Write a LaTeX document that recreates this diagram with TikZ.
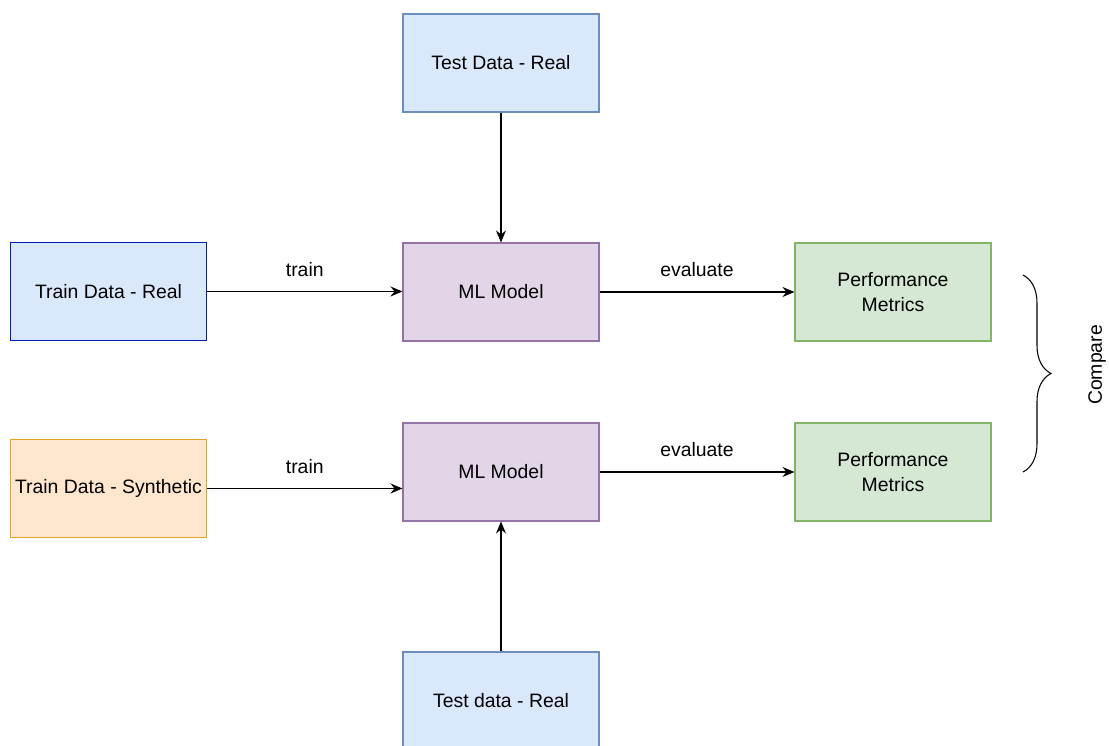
\documentclass[tikz,border=0pt]{standalone}
\usepackage{fontspec}
\setmainfont{Liberation Sans}
\usepackage{tikz}
\usetikzlibrary{arrows.meta,positioning,calc,decorations.pathreplacing}
\definecolor{dioblue}{HTML}{DAE8FC}
\definecolor{dioblueline}{HTML}{6C8EBF}
\definecolor{diodarkblue}{HTML}{001DBC}
\definecolor{dioorange}{HTML}{FFE6CC}
\definecolor{dioorangeline}{HTML}{DFA420}
\definecolor{diopurple}{HTML}{E1D5E7}
\definecolor{diopurpleline}{HTML}{9673A6}
\definecolor{diogreen}{HTML}{D5E8D4}
\definecolor{diogreenline}{HTML}{82B366}

\begin{document}
\begin{tikzpicture}[
    box/.style={rectangle, draw=dioblueline, line width=0.75pt,
        fill=dioblue, minimum width=4.9cm, minimum height=2.45cm,
        inner sep=1pt, align=center,
        font=\fontsize{13.8pt}{17.8pt}\selectfont},
    boxb/.style={box, draw=diodarkblue},
    boxo/.style={box, draw=dioorangeline, fill=dioorange},
    boxp/.style={box, draw=diopurpleline, fill=diopurple},
    boxg/.style={box, draw=diogreenline, fill=diogreen},
    lbl/.style={font=\fontsize{13.8pt}{17.8pt}\selectfont, above=7pt, midway},
    arr/.style={-{Stealth[length=3mm, width=2.5mm, inset=1mm]}, line width=0.9pt}
]
    \clip (0,0) rectangle (27.725,18.65);

    \node[box]  (testtop) at (12.525,17.075) {Test Data - Real};
    \node[boxb] (trainre) at (2.7125,11.3625) {Train Data - Real};
    \node[boxp] (mla)     at (12.525,11.35) {ML Model};
    \node[boxg] (perfa)   at (22.325,11.35) {Performance\\ Metrics};

    \node[boxo] (trainsy) at (2.7125,6.4375) {Train Data - Synthetic};
    \node[boxp] (mlb)     at (12.525,6.85) {ML Model};
    \node[boxg] (perfb)   at (22.325,6.85) {Performance\\ Metrics};
    \node[box]  (testbot) at (12.525,1.125) {Test data - Real};

    \draw[arr] (testtop) -- (mla);
    \draw[arr] (trainre.east) -- (trainre.east -| mla.west) node[lbl] {train};
    \draw[arr] (mla) -- (perfa) node[lbl] {evaluate};
    \draw[arr] (trainsy.east) -- (trainsy.east -| mlb.west) node[lbl] {train};
    \draw[arr] (mlb) -- (perfb) node[lbl] {evaluate};
    \draw[arr] (testbot) -- (mlb);

    % brace between the two metric boxes
    \coordinate (bracetop) at (25.575,11.775);
    \coordinate (bracebot) at (25.575,6.85);
    \draw[line width=0.75pt, decorate, decoration={brace, amplitude=0.7cm, aspect=0.5}]
        (bracetop) -- (bracebot);
    \node[rotate=90, font=\fontsize{13.8pt}{17.8pt}\selectfont] (cmp) at (27.425,9.525) {Compare};
\end{tikzpicture}
\end{document}
